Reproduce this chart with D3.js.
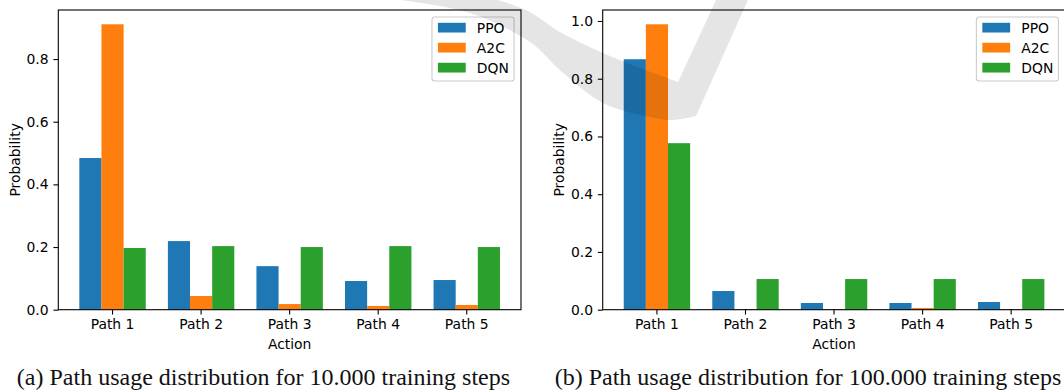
<!DOCTYPE html>
<html>
<head>
<meta charset="utf-8">
<script src="https://cdn.jsdelivr.net/npm/d3@7"></script>
<style>
  html, body { margin: 0; padding: 0; background: #ffffff; }
  svg { display: block; }
</style>
</head>
<body>
<svg id="chart" width="1064" height="391"></svg>
<script>
// ---- data ----
const paths = ["Path 1", "Path 2", "Path 3", "Path 4", "Path 5"];
const algorithms = ["PPO", "A2C", "DQN"];

// 10.000 training steps
const ppo10k = [0.484, 0.219, 0.139, 0.0915, 0.0947];
const a2c10k = [0.911, 0.0437, 0.018, 0.012, 0.015];
const dqn10k = [0.197, 0.203, 0.200, 0.203, 0.200];

// 100.000 training steps
const ppo100k = [0.8675, 0.0647, 0.0232, 0.0232, 0.0266];
const a2c100k = [0.9886, 0.002, 0.002, 0.006, 0.002];
const dqn100k = [0.5768, 0.1062, 0.1062, 0.1062, 0.1062];

const yTicks10k = [0.0, 0.2, 0.4, 0.6, 0.8];
const yTicks100k = [0.0, 0.2, 0.4, 0.6, 0.8, 1.0];

const captions = [
  "(a) Path usage distribution for 10.000 training steps",
  "(b) Path usage distribution for 100.000 training steps"
];

const colors = ["#1f77b4", "#ff7f0e", "#2ca02c"];

// ---- layout ----
const FS = 13.9;               // 10pt text
const TICK = 4.86;             // 3.5pt ticks / padding
const LW = 1.1;                // 0.8pt lines
const TOP = 10, BOTTOM = 309.7, PW = 462.7;
const SANS = "'DejaVu Sans', sans-serif";
const SERIF = "'Liberation Serif', 'Times New Roman', serif";

const panels = [
  { left: 58.3,  values: [ppo10k, a2c10k, dqn10k],    ticks: yTicks10k,  caption: captions[0], capX: 263.5 },
  { left: 602.7, values: [ppo100k, a2c100k, dqn100k], ticks: yTicks100k, caption: captions[1], capX: 808 }
];

const svg = d3.select("#chart");

function drawPanel(p) {
  const g = svg.append("g");

  const x = d3.scaleBand()
    .domain(paths)
    .range([p.left, p.left + PW])
    .paddingInner(0.25)
    .paddingOuter(0.2375);

  const xs = d3.scaleBand()
    .domain(algorithms)
    .range([0, x.bandwidth()]);

  const maxV = d3.max(p.values.flat());
  const y = d3.scaleLinear()
    .domain([0, maxV * 1.05])
    .range([BOTTOM, TOP]);

  // grouped bars
  algorithms.forEach((alg, si) => {
    g.append("g")
      .attr("fill", colors[si])
      .selectAll("rect")
      .data(p.values[si])
      .join("rect")
      .attr("x", (d, i) => x(paths[i]) + xs(alg))
      .attr("width", xs.bandwidth())
      .attr("y", d => y(d))
      .attr("height", d => y(0) - y(d));
  });

  // x axis
  const gx = g.append("g")
    .attr("transform", `translate(0,${BOTTOM})`)
    .call(d3.axisBottom(x).tickSizeInner(TICK).tickSizeOuter(0).tickPadding(TICK));
  gx.select(".domain").remove();

  // y axis
  const gy = g.append("g")
    .attr("transform", `translate(${p.left},0)`)
    .call(d3.axisLeft(y).tickValues(p.ticks).tickFormat(d3.format(".1f"))
      .tickSizeInner(TICK).tickSizeOuter(0).tickPadding(TICK));
  gy.select(".domain").remove();

  [gx, gy].forEach(ax => {
    ax.attr("font-family", SANS).attr("font-size", FS);
    ax.selectAll("line").attr("stroke", "#000").attr("stroke-width", LW);
    ax.selectAll("text").attr("fill", "#000");
  });

  // axes frame
  g.append("rect")
    .attr("x", p.left).attr("y", TOP)
    .attr("width", PW).attr("height", BOTTOM - TOP)
    .attr("fill", "none").attr("stroke", "#000").attr("stroke-width", LW);

  // axis titles
  g.append("text")
    .attr("x", p.left + PW / 2).attr("y", 348.7)
    .attr("text-anchor", "middle")
    .attr("font-family", SANS).attr("font-size", FS)
    .text("Action");

  g.append("text")
    .attr("transform", `translate(${p.left - 43.3},${(TOP + BOTTOM) / 2}) rotate(-90)`)
    .attr("text-anchor", "middle")
    .attr("dominant-baseline", "central")
    .attr("font-family", SANS).attr("font-size", FS)
    .text("Probability");

  // legend (upper right)
  const lg = g.append("g");
  const rowH = 20, handleW = 2.0 * FS, handleH = 0.7 * FS;
  const pad = 0.4 * FS, textGap = 0.8 * FS;
  const items = lg.selectAll("g.item")
    .data(algorithms)
    .join("g").attr("class", "item");
  const labels = items.append("text")
    .attr("font-family", SANS).attr("font-size", FS)
    .attr("dominant-baseline", "central")
    .text(d => d);
  const textW = d3.max(labels.nodes(), n => n.getComputedTextLength());
  const boxW = pad * 2 + handleW + textGap + textW;
  const boxH = 64;
  const boxX = p.left + PW - 0.5 * FS - boxW;
  const boxY = TOP + 0.5 * FS;
  lg.insert("rect", ":first-child")
    .attr("x", boxX).attr("y", boxY)
    .attr("width", boxW).attr("height", boxH)
    .attr("rx", 2.8)
    .attr("fill", "#fff").attr("fill-opacity", 0.8)
    .attr("stroke", "#cccccc").attr("stroke-width", LW);
  items.each(function (d, i) {
    const cy = boxY + 10.7 + i * rowH;
    const it = d3.select(this);
    it.append("rect")
      .attr("x", boxX + pad + 0.4).attr("y", cy - handleH / 2)
      .attr("width", handleW).attr("height", handleH)
      .attr("fill", colors[i]);
    it.select("text")
      .attr("x", boxX + pad + 0.4 + handleW + textGap)
      .attr("y", cy);
  });

  // sub-figure caption
  svg.append("text")
    .attr("x", p.capX).attr("y", 385.3)
    .attr("text-anchor", "middle")
    .attr("font-family", SERIF).attr("font-size", 24)
    .attr("fill", "#111")
    .text(p.caption);
}

panels.forEach(drawPanel);

// faint check-mark watermark laid over the page
const markOuter = [[400, 0], [470, 13], [530, 42], [562, 72], [603, 103], [645, 116], [672, 120], [696, 116]];
const markInner = [[678, 82], [640, 68], [603, 53], [560, 32], [528, 11], [498, 0]];
const curve = d3.line().curve(d3.curveCatmullRom.alpha(0.5));
const outerD = curve(markOuter);
const innerD = curve(markInner).replace(/^M/, "L");
svg.append("path")
  .attr("d", `${outerD} L748,0 L716,0 ${innerD} Z`)
  .attr("fill", "#000")
  .attr("fill-opacity", 0.1);
</script>
</body>
</html>
